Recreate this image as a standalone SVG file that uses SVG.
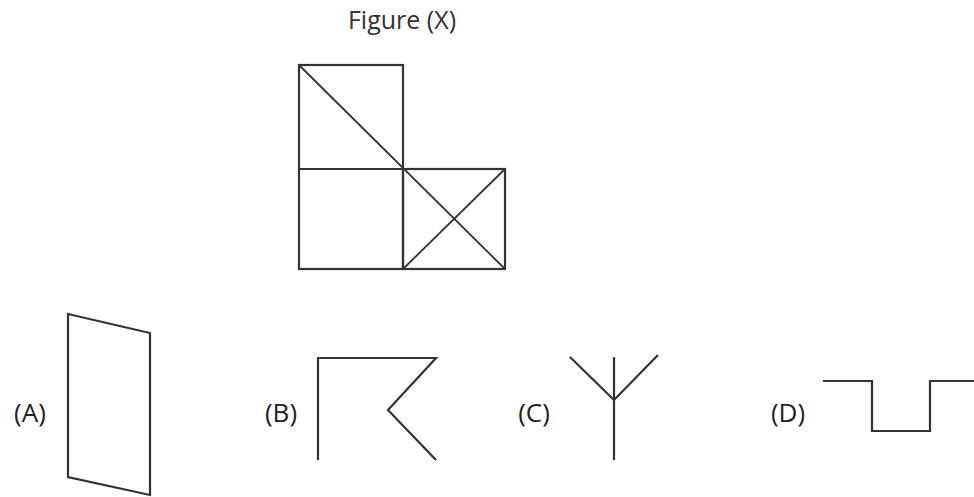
<svg xmlns="http://www.w3.org/2000/svg" width="974" height="497" viewBox="0 0 974 497">
<style>
.ln{fill:none;stroke:#333;stroke-width:2.2;stroke-linejoin:miter;stroke-linecap:butt}
.thin{fill:none;stroke:#333;stroke-width:1.8}
.lb{font-family:"Open Sans","Noto Sans",sans-serif;font-size:26px;fill:#222}
.tt{font-family:"Open Sans","Noto Sans",sans-serif;font-size:25px;fill:#333}
</style>
<rect width="974" height="497" fill="#fff"/>
<g id="figureX">
<text class="tt" x="402" y="29" text-anchor="middle">Figure (X)</text>
<rect class="ln" x="299" y="65" width="104" height="204"/>
<rect class="ln" x="403" y="169" width="102" height="100"/>
<line class="ln" x1="299" y1="169" x2="403" y2="169"/>
<line class="thin" x1="299" y1="65" x2="505" y2="269"/>
<line class="thin" x1="403" y1="269" x2="505" y2="169"/>
</g>
<g id="optionA">
<text class="lb" x="30" y="422" text-anchor="middle">(A)</text>
<polygon class="ln" points="68,314 150,333 150,495 68,477"/>
</g>
<g id="optionB">
<text class="lb" x="281" y="422" text-anchor="middle">(B)</text>
<polyline class="ln" points="318,460 318,358 436,358 388,410 436,460"/>
</g>
<g id="optionC">
<text class="lb" x="534" y="422" text-anchor="middle">(C)</text>
<line class="ln" x1="614" y1="357" x2="614" y2="460"/>
<polyline class="ln" points="570,357 614,400 658,355"/>
</g>
<g id="optionD">
<text class="lb" x="788" y="422" text-anchor="middle">(D)</text>
<polyline class="ln" points="823,381 872,381 872,431 930,431 930,381 974,381"/>
</g>
</svg>
